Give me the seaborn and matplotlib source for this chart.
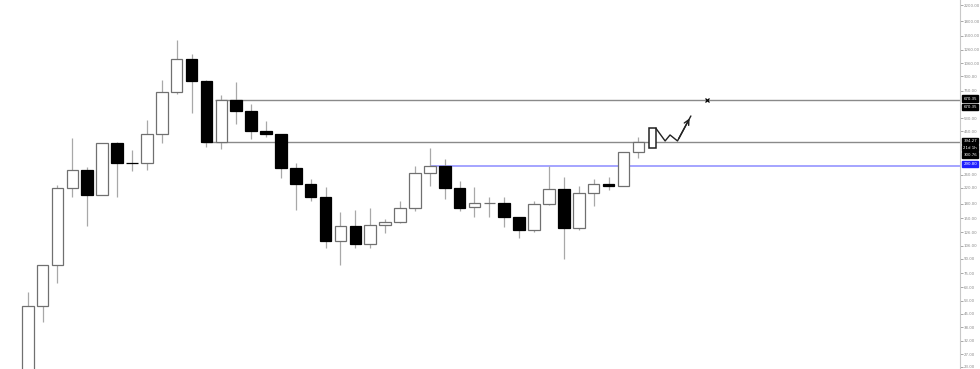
import matplotlib
matplotlib.use("Agg")
import matplotlib.pyplot as plt
import matplotlib.transforms as mtransforms
import numpy as np
import pandas as pd
import seaborn as sns

# monthly candles (log price scale)
opens = [20, 49.7, 83.3, 219, 276, 201.4, 388, 303, 302.7, 433,
         735.4, 1115, 851.3, 391.5, 667.4, 577.3, 453.1, 433, 282, 231.4,
         197.1, 113.2, 136.2, 108.2, 138, 143.8, 171, 266.8, 290.3, 219,
         172.5, 182.8, 182.8, 152, 129.5, 179.8, 217.2, 132.4, 205.8, 230.5,
         225.6, 347.7]
highs = [59, 83.5, 228.5, 413, 286.7, 390, 393, 355.3, 518.6, 858.8,
         1422, 1187.5, 860, 710.8, 840.6, 634.5, 514, 435, 302.7, 245.5,
         223.6, 163.2, 166.7, 170.3, 148.3, 187.4, 290.3, 363, 317, 241.2,
         223.6, 197.1, 195.6, 153, 187.4, 290.3, 251.8, 225.6, 246.4, 253.7,
         348, 417]
lows = [18, 40.6, 66.4, 196.4, 136.2, 200, 197.1, 273.6, 276, 389.5,
        719.8, 564.3, 367.6, 358.4, 491.3, 408.1, 417, 248.6, 166.7, 187.4,
        102.9, 83.3, 102.9, 102.9, 125.2, 142, 164.6, 225.6, 190.8, 164.6,
        153.2, 153.2, 134, 116.7, 126.8, 177.5, 89.5, 129.5, 175.3, 214.5,
        225, 320]
closes = [49.7, 83.3, 219, 276, 201.4, 388, 302.7, 302.7, 433, 735.4,
          1115, 851.3, 391.5, 667.4, 577.3, 451.4, 433, 282, 231.4, 197.1,
          113.2, 136.2, 108.2, 138, 143.8, 171, 266.8, 290.3, 219, 171.6,
          181.4, 182.8, 152, 129.5, 179.8, 217.2, 133.4, 205.8, 230.5, 225.6,
          347.7, 394.5]

# horizontal levels: (price, start candle, colour)
levels = [(670.35, 12.6, "#8a8a8a"), (394.27, 11.8, "#8a8a8a"), (290.80, 27.0, "#8c8cff")]

# projected move drawn after the last candle
proj_box = (41.94, 363, 467)
path_x = [42.18, 42.8, 43.13, 43.63, 44.53]
path_y = [467, 398, 429.2, 398, 545.4]
target = (45.64, 670.35)

y_ticks = [2200, 1800, 1500, 1260, 1060, 900, 750, 530, 450, 260, 220, 180,
           150, 126, 106, 90, 75, 63, 53, 45, 38, 32, 27, 23]
# price tags on the axis: (price, text, background, offset px)
tags = [(670.35, "670.35", "black", 1), (670.35, "670.35", "black", -7.3),
        (394.27, "394.27", "black", 0.7), (394.27, "21d 1h", "black", -6.3),
        (300.76, "300.76", "black", 8.0), (290.80, "290.80", "#2020ff", 1.7)]

df = pd.DataFrame({"open": opens, "high": highs, "low": lows, "close": closes})
df["x"] = np.arange(len(df))
df["up"] = df["close"] >= df["open"]

sns.set_theme(style="white")
fig = plt.figure(figsize=(9.8, 3.69), dpi=100)
ax = fig.add_axes([0, 0, 960 / 980, 1])
ax.set_yscale("log")
ax.set_xlim(-1.86, 62.6)
ax.set_ylim(22.4, 2356)

# wicks
ax.vlines(df["x"], df["low"], df["high"], color="#a8a8a8", lw=0.9, zorder=1)

# bodies
bottom = df[["open", "close"]].min(axis=1)
height = (df["close"] - df["open"]).abs()
up = df["up"]
ax.bar(df["x"][up], height[up], bottom=bottom[up], width=0.78,
       color="white", edgecolor="#707070", linewidth=0.9, zorder=2)
ax.bar(df["x"][~up], height[~up], bottom=bottom[~up], width=0.78,
       color="black", edgecolor="black", linewidth=0.9, zorder=2)

# levels
for price, start, col in levels:
    ax.hlines(price, start, 62.6, color=col, lw=1.1 if col != "#8a8a8a" else 1.0, zorder=0)

# projection
ax.bar([proj_box[0]], [proj_box[2] - proj_box[1]], bottom=[proj_box[1]], width=0.47,
       color="white", edgecolor="#222222", linewidth=1.1, zorder=3)
sns.lineplot(x=path_x, y=path_y, sort=False, color="#222222", lw=1.0, ax=ax, zorder=3)
ax.annotate("", xy=(path_x[-1], path_y[-1]), xytext=(path_x[-2], path_y[-2]),
            arrowprops=dict(arrowstyle="->", color="#222222", lw=1.0, mutation_scale=9))
ax.plot([target[0]], [target[1]], marker="x", color="black", ms=3, mew=0.9)

# right price axis
for s in ["top", "left", "bottom"]:
    ax.spines[s].set_visible(False)
ax.spines["right"].set_color("#c8c8c8")
ax.spines["right"].set_linewidth(0.8)
ax.set_xticks([])
ax.yaxis.tick_right()
ax.set_yticks(y_ticks)
ax.set_yticklabels([f"{v:.2f}" for v in y_ticks])
ax.yaxis.set_minor_locator(matplotlib.ticker.NullLocator())
ax.tick_params(axis="y", which="major", length=2, width=0.6, color="#999999",
               labelsize=2.8, labelcolor="#8a8a8a", pad=0.8)

trans = mtransforms.blended_transform_factory(ax.transAxes, ax.transData)
for price, txt, bg, off in tags:
    ax.annotate(txt, xy=(1.0, price), xycoords=trans,
                xytext=(2.5, off * 0.72), textcoords="offset points",
                fontsize=2.8, color="white", va="center", ha="left",
                bbox=dict(boxstyle="square,pad=0.3", fc=bg, ec=bg),
                annotation_clip=False)

fig.savefig("out.png", dpi=100)
